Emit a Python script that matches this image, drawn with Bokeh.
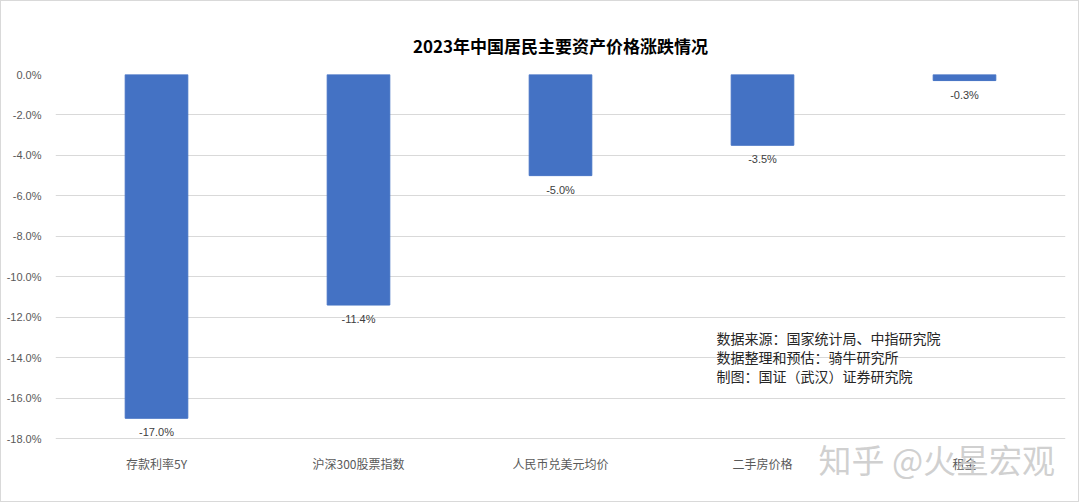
from bokeh.plotting import figure
from bokeh.models import ColumnDataSource, Range1d, FactorRange, LabelSet, Label, PrintfTickFormatter, FixedTicker, Title
from bokeh.core.properties import value
from bokeh.embed import file_html
from bokeh.resources import INLINE

categories = ["存款利率5Y", "沪深300股票指数", "人民币兑美元均价", "二手房价格", "租金"]
values = [-17.0, -11.4, -5.0, -3.5, -0.3]
labels = ["-17.0%", "-11.4%", "-5.0%", "-3.5%", "-0.3%"]
yticks = [0, -2, -4, -6, -8, -10, -12, -14, -16, -18]
title_text = "2023年中国居民主要资产价格涨跌情况"
note_lines = ["数据来源：国家统计局、中指研究院", "数据整理和预估：骑牛研究所", "制图：国证（武汉）证券研究院"]
watermark = "知乎 @火星宏观"

FONT = "Noto Sans CJK SC"
H = 502
FL, FB = 55, 503  # frame left / bottom in page pixels (1px border offset)
FT = 74
PX_PER_UNIT = (438 - 74) / 18.0
YMIN = -(FB - FT) / PX_PER_UNIT


def sx(x):
    return x - FL


def sy(y):
    return FB - y


src = ColumnDataSource(dict(cat=categories, val=values, lab=labels))

p = figure(width=1079, height=H, output_backend="svg", toolbar_location=None,
           x_range=FactorRange(*categories), y_range=Range1d(YMIN, 0),
           min_border_left=54, min_border_right=15, min_border_top=73, min_border_bottom=0)
p.title = Title(text=title_text, align="center", text_font=FONT, text_font_size="17px",
                text_font_style="bold", text_color="#000000", offset=-19, standoff=33)
p.outline_line_color = None
p.background_fill_color = "white"
p.border_fill_color = "white"
p.styles = {"border": "1px solid #d9d9d9", "box-sizing": "border-box"}

p.vbar(x="cat", top="val", bottom=0, width=0.31, source=src, color="#4472C4")

p.yaxis.ticker = FixedTicker(ticks=yticks)
p.yaxis.formatter = PrintfTickFormatter(format="%.1f%%")
p.yaxis.axis_line_color = None
p.yaxis.major_tick_line_color = None
p.yaxis.minor_tick_line_color = None
p.yaxis.major_label_text_font = "Liberation Sans"
p.yaxis.major_label_text_font_size = "11px"
p.yaxis.major_label_text_color = "#595959"
p.yaxis.major_label_standoff = 8

p.xaxis.fixed_location = -18
p.xaxis.axis_line_color = None
p.xaxis.major_tick_line_color = None
p.xaxis.major_label_text_font = FONT
p.xaxis.major_label_text_font_size = "12px"
p.xaxis.major_label_text_color = "#595959"
p.xaxis.major_label_standoff = 10

p.xgrid.grid_line_color = None
p.ygrid.grid_line_color = "#d9d9d9"
p.ygrid.ticker = FixedTicker(ticks=yticks)

p.add_layout(LabelSet(x="cat", y="val", text="lab", source=src, y_offset=-8,
                      text_align="center", text_baseline="top",
                      text_font=value("Liberation Sans"), text_font_size=value("11px"),
                      text_color=value("#404040")))

for i, line in enumerate(note_lines):
    p.add_layout(Label(x=sx(716), y=sy(337 + 19 * i), x_units="screen", y_units="screen", text=line,
                       text_align="left", text_baseline="middle", text_font=FONT,
                       text_font_size="14px", text_color="#262626"))

p.add_layout(Label(x=sx(818), y=sy(458), x_units="screen", y_units="screen", text=watermark,
                   text_align="left", text_baseline="middle", text_font=FONT, level="overlay",
                   text_font_size="33px", text_color="#c8c8c8", text_alpha=0.85))

open("out.html", "w").write(file_html(p, INLINE))
